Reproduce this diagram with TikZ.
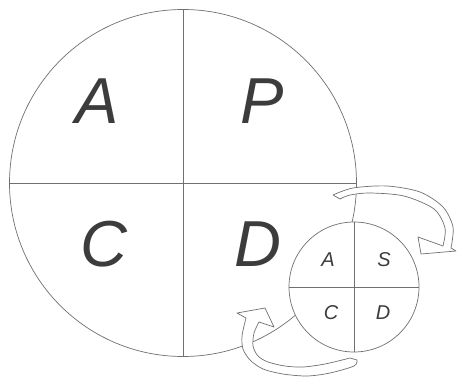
\documentclass[tikz,border=0pt]{standalone}
\usepackage{fontspec}
\setmainfont{Liberation Sans}
\definecolor{linec}{HTML}{707070}
\definecolor{letterc}{HTML}{3C3C3C}
\tikzset{
  ring/.style={circle, draw=linec, line width=0.7pt, fill=white, inner sep=0pt},
  divider/.style={draw=linec, line width=0.7pt},
  bigletter/.style={inner sep=0pt, text=letterc, font=\fontsize{65}{65}\selectfont\itshape},
  smallletter/.style={inner sep=0pt, text=letterc, font=\fontsize{20}{20}\selectfont\itshape},
  blockarrow/.style={draw=linec, line width=0.7pt, fill=white, line join=round}
}
\begin{document}
\begin{tikzpicture}[x=1pt,y=-1pt]
\useasboundingbox (0,0) rectangle (457,379);
% big circle
\node[ring, minimum size=347pt] (big) at (183,183) {};
\draw[divider] (big.north) -- (big.south);
\draw[divider] (big.west) -- (big.east);
\node[bigletter] (bA) at (97,101) {A};
\node[bigletter] (bP) at (262,101) {P};
\node[bigletter] (bC) at (104,244) {C};
\node[bigletter] (bD) at (258,244) {D};
% small circle
\node[ring, minimum size=130pt] (small) at (354,287) {};
\draw[divider] (small.north) -- (small.south);
\draw[divider] (small.west) -- (small.east);
\node[smallletter] (sA) at (328,260) {A};
\node[smallletter] (sS) at (384,260) {S};
\node[smallletter] (sC) at (331,313) {C};
\node[smallletter] (sD) at (383,313) {D};
% upper curved arrow
\draw[blockarrow]
  plot[smooth] coordinates {(333,195) (353,188) (387,186) (420,192) (443,207) (453,227) (451,248)}
  -- (456,251) -- (421,254) -- (418,237)
  -- plot[smooth] coordinates {(443,246) (445,228) (434,209) (404,196) (370,193) (350,195) (340,199)}
  -- cycle;
% lower curved arrow
\draw[blockarrow]
  plot[smooth] coordinates {(357,360) (354,366) (330,373) (307,376) (283,374) (263,369) (250,360) (243,349) (242,336) (246,318)}
  -- (237,313) -- (265,308) -- (274,327)
  -- plot[smooth] coordinates {(259,322) (254,333) (253,346) (258,356) (268,362) (285,366) (303,367) (325,364) (350,358)}
  -- cycle;
\end{tikzpicture}
\end{document}
